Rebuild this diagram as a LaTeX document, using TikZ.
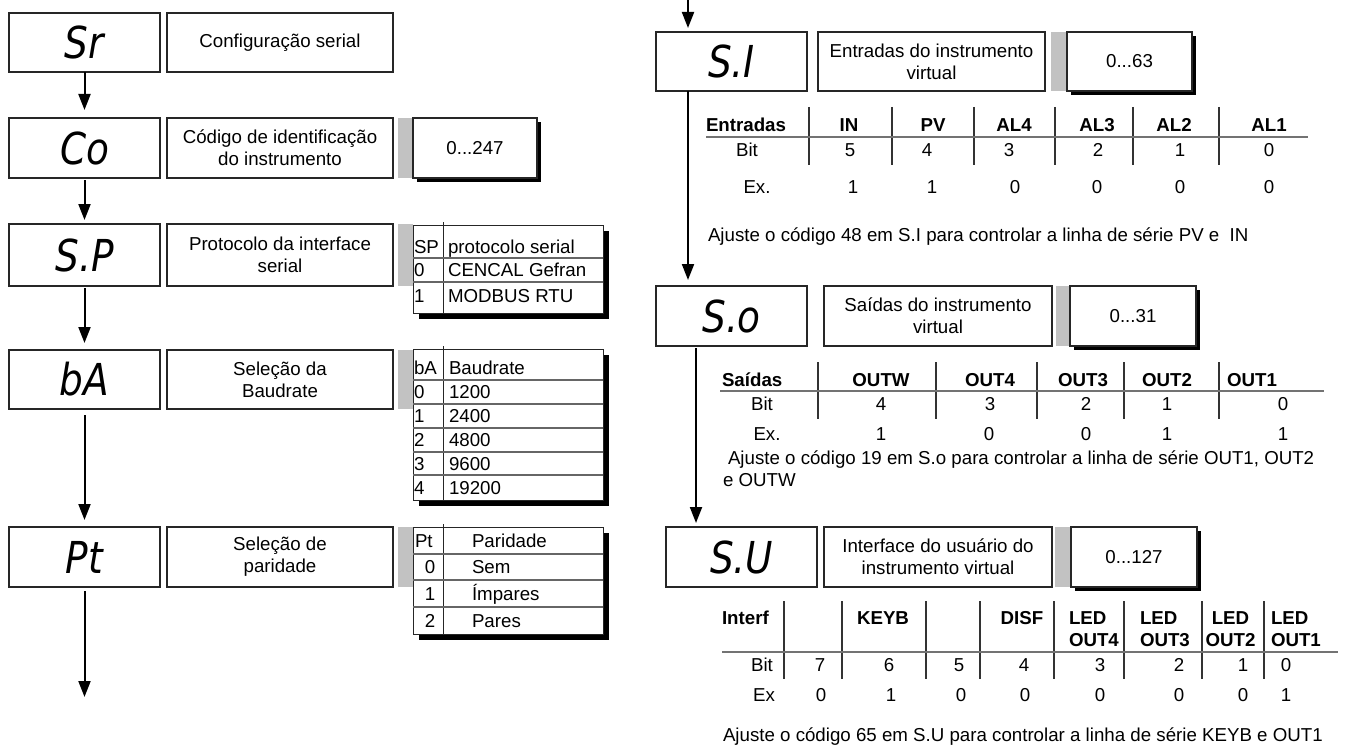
\documentclass[tikz,border=0pt]{standalone}
\usepackage{fontspec}
\setmainfont{Liberation Sans}
\newfontfamily\segfont[FakeStretch=0.85]{DejaVu Sans}
\usetikzlibrary{arrows.meta,shadows}
\newcommand\dfont{\fontsize{18.7}{22}\selectfont}
\begin{document}
\begin{tikzpicture}[x=1pt,y=-1pt,
  every node/.style={inner sep=0pt,outer sep=0pt},
  txt/.style={font=\dfont,text height=13.4pt,text depth=0pt},
  btxt/.style={font=\dfont\bfseries,text height=13.4pt,text depth=0pt},
  disp/.style={draw=black!85,line width=1.2pt,minimum width=151pt,font=\segfont\itshape\fontsize{44}{44}\selectfont},
  desc/.style={draw=black!85,line width=1.2pt,align=center,font=\dfont},
  gbar/.style={fill=black!24,minimum width=15pt},
  val/.style={draw=black!85,line width=1.2pt,fill=white,font=\dfont,drop shadow={shadow xshift=4pt,shadow yshift=-4pt,opacity=1,fill=black}},
  tframe/.style={draw=black!85,line width=1pt,fill=white,minimum width=190pt,drop shadow={shadow xshift=6pt,shadow yshift=-6pt,opacity=1,fill=black}},
  rowl/.style={draw=black!60,line width=1.5pt},
  coll/.style={draw=black!85,line width=1pt},
  hl/.style={draw=black!55,line width=2pt},
  vl/.style={draw=black!80,line width=1.1pt},
  arr/.style={line width=2pt,-{Triangle[length=16pt,width=12pt]}}
]
\useasboundingbox (0,0) rectangle (1346,749);

% ---------------- left column ----------------
\node[disp,minimum height=59pt] (sr) at (84.5,42.5) {Sr};
\node[desc,minimum width=226pt,minimum height=59pt] (srd) at (280,42.5) {Configuração serial};

\node[disp,minimum height=60pt] (co) at (84.5,148) {Co};
\node[desc,minimum width=226pt,minimum height=60pt] (cod) at (280,148) {Código de identificação\\do instrumento};
\node[gbar,minimum height=60pt] (cog) at (405.5,148) {};
\node[val,minimum width=124pt,minimum height=60pt] (cov) at (475,148) {0...247};

\node[disp,minimum height=62pt] (sp) at (84.5,255) {S.P};
\node[desc,minimum width=226pt,minimum height=62pt] (spd) at (280,255) {Protocolo da interface\\serial};
\node[gbar,minimum height=62pt] (spg) at (405.5,255) {};
\node[tframe,minimum height=88pt] (spt) at (508,269) {};
\draw[coll] (443,222) -- (443,313);
\foreach \y in {258,282} \draw[rowl] (413,\y) -- (603,\y);
\node[txt,anchor=west] (sp1a) at (414,247) {SP};
\node[txt,anchor=west] (sp1b) at (448,247) {protocolo serial};
\node[txt,anchor=west] (sp2a) at (414,270) {0};
\node[txt,anchor=west] (sp2b) at (448,270) {CENCAL Gefran};
\node[txt,anchor=west] (sp3a) at (414,296) {1};
\node[txt,anchor=west] (sp3b) at (448,296) {MODBUS RTU};

\node[disp,minimum height=59pt] (ba) at (84.5,379.5) {bA};
\node[desc,minimum width=226pt,minimum height=59pt] (bad) at (280,379.5) {Seleção da\\Baudrate};
\node[gbar,minimum height=59pt] (bag) at (405.5,379.5) {};
\node[tframe,minimum height=151pt] (bat) at (508,424.5) {};
\draw[coll] (443,346) -- (443,500);
\foreach \y in {380,404,428,452,475} \draw[rowl] (413,\y) -- (603,\y);
\node[txt,anchor=west] (ba0a) at (414,368) {bA};
\node[txt,anchor=west] (ba0b) at (449,368) {Baudrate};
\foreach \y/\a/\b [count=\i] in {392/0/1200,416/1/2400,440/2/4800,464/3/9600,488/4/19200}{
  \node[txt,anchor=west] (ba\i a) at (414,\y) {\a};
  \node[txt,anchor=west] (ba\i b) at (449,\y) {\b};
}

\node[disp,minimum height=60pt] (pt) at (84.5,557) {Pt};
\node[desc,minimum width=226pt,minimum height=60pt] (ptd) at (280,557) {Seleção de\\paridade};
\node[gbar,minimum height=60pt] (ptg) at (405.5,557) {};
\node[tframe,minimum height=107pt] (ptt) at (508,580.5) {};
\draw[coll] (443,524) -- (443,634);
\foreach \y in {554,580,607} \draw[rowl] (413,\y) -- (603,\y);
\node[txt,anchor=west] (pt0a) at (415,541) {Pt};
\node[txt,anchor=west] (pt0b) at (472,541) {Paridade};
\foreach \y/\a/\b [count=\i] in {567/0/Sem,594/1/Ímpares,621/2/Pares}{
  \node[txt] (pt\i a) at (430,\y) {\a};
  \node[txt,anchor=west] (pt\i b) at (472,\y) {\b};
}

\coordinate (lend) at (84.5,697);
\draw[arr,shorten >=8pt] (sr) -- (co);
\draw[arr,shorten <=2pt,shorten >=4pt] (co) -- (sp);
\draw[arr,shorten <=2pt,shorten >=7pt] (sp) -- (ba);
\draw[arr,shorten <=6pt,shorten >=7pt] (ba) -- (pt);
\draw[arr,shorten <=4pt] (pt) -- (lend);

% ---------------- right column ----------------
\node[disp,minimum height=59pt] (s1) at (731.5,61.5) {S.I};
\node[desc,minimum width=227pt,minimum height=59pt] (s1d) at (931.5,61.5) {Entradas do instrumento\\virtual};
\node[gbar,minimum width=16pt,minimum height=59pt] (s1g) at (1059,61.5) {};
\node[val,minimum width=125pt,minimum height=59pt] (s1v) at (1129.5,61.5) {0...63};

\foreach \x in {809,892,974,1055,1133,1219} \draw[vl] (\x,107) -- (\x,165);
\draw[hl] (706,137) -- (1308,137);
\node[btxt,anchor=west] (t1h0) at (706,125) {Entradas};
\foreach \x/\t [count=\i] in {849/IN,933/PV,1014/AL4,1097/AL3,1174/AL2,1269/AL1}
  \node[btxt] (t1h\i) at (\x,125) {\t};
\node[txt] (t1b0) at (747,150) {Bit};
\foreach \x/\t [count=\i] in {850/5,927/4,1009/3,1098/2,1180/1,1269/0}
  \node[txt] (t1b\i) at (\x,150) {\t};
\node[txt] (t1e0) at (757,187) {Ex.};
\foreach \x/\t [count=\i] in {853/1,932/1,1015/0,1097/0,1180/0,1269/0}
  \node[txt] (t1e\i) at (\x,187) {\t};
\node[txt,anchor=west] (t1n) at (708,235) {Ajuste o código 48 em S.I para controlar a linha de série PV e\ \ IN};

\node[disp,minimum height=60pt] (so) at (731.5,316) {S.o};
\node[desc,minimum width=228pt,minimum height=60pt] (sod) at (938,316) {Saídas do instrumento\\virtual};
\node[gbar,minimum width=14pt,minimum height=60pt] (sog) at (1063,316) {};
\node[val,minimum width=126pt,minimum height=60pt] (sov) at (1133,316) {0...31};

\foreach \x in {818,936,1037,1124,1219} \draw[vl] (\x,362) -- (\x,419);
\draw[hl] (720,391) -- (1324,391);
\node[btxt,anchor=west] (t2h0) at (722,380) {Saídas};
\foreach \x/\t [count=\i] in {881/OUTW,990/OUT4,1083/OUT3,1167/OUT2,1252/OUT1}
  \node[btxt] (t2h\i) at (\x,380) {\t};
\node[txt] (t2b0) at (762,404) {Bit};
\foreach \x/\t [count=\i] in {881/4,990/3,1086/2,1167/1,1283/0}
  \node[txt] (t2b\i) at (\x,404) {\t};
\node[txt] (t2e0) at (767,434) {Ex.};
\foreach \x/\t [count=\i] in {881/1,989/0,1086/0,1167/1,1283/1}
  \node[txt] (t2e\i) at (\x,434) {\t};
\node[anchor=north west,align=left,font=\dfont] (t2n) at (723,451) {\hspace*{5pt}Ajuste o código 19 em S.o para controlar a linha de série OUT1, OUT2\\e OUTW};

\node[disp,minimum height=60pt] (su) at (741.5,557) {S.U};
\node[desc,minimum width=228pt,minimum height=60pt] (sud) at (938,557) {Interface do usuário do\\instrumento virtual};
\node[gbar,minimum width=16pt,minimum height=60pt] (sug) at (1063,557) {};
\node[val,minimum width=126pt,minimum height=60pt] (suv) at (1134,557) {0...127};

\foreach \x in {784,842,926,980,1054,1124,1202,1264} \draw[vl] (\x,601) -- (\x,679);
\draw[hl] (722,652) -- (1338,652);
\node[btxt,anchor=west] (t3h0) at (722,618) {Interf};
\node[btxt] (t3h1) at (883,618) {KEYB};
\node[btxt] (t3h2) at (1022,618) {DISF};
\node[anchor=north west,align=left,font=\dfont\bfseries] (t3h3) at (1069,611.3) {LED\\OUT4};
\node[anchor=north west,align=left,font=\dfont\bfseries] (t3h4) at (1140,611.3) {LED\\OUT3};
\node[anchor=north,align=center,font=\dfont\bfseries] (t3h5) at (1230.5,611.3) {LED\\OUT2};
\node[anchor=north west,align=left,font=\dfont\bfseries] (t3h6) at (1271,611.3) {LED\\OUT1};
\node[txt] (t3b0) at (762,665) {Bit};
\foreach \x/\t [count=\i] in {820/7,889/6,959/5,1024/4,1100/3,1179/2,1243/1,1286/0}
  \node[txt] (t3b\i) at (\x,665) {\t};
\node[txt] (t3e0) at (764,695) {Ex};
\foreach \x/\t [count=\i] in {821/0,891/1,961/0,1025/0,1100/0,1179/0,1243/0,1286/1}
  \node[txt] (t3e\i) at (\x,695) {\t};
\node[txt,anchor=west] (t3n) at (723,735) {Ajuste o código 65 em S.U para controlar a linha de série KEYB e OUT1};

\coordinate (topin) at (688,0);
\coordinate (xr2) at (696,0);
\draw[arr,shorten >=4pt] (topin) -- (s1.north -| topin);
\draw[arr,shorten >=6pt] (s1.south -| topin) -- (so.north -| topin);
\draw[arr,shorten <=2pt,shorten >=4pt] (so.south -| xr2) -- (su.north -| xr2);
\end{tikzpicture}
\end{document}
